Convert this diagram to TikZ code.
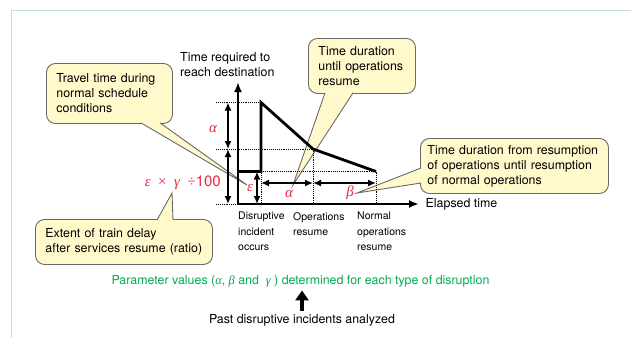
\documentclass[tikz,border=0pt]{standalone}
\usepackage{fontspec}
\setmainfont{TeX Gyre Heros}
\newfontfamily\symfont{Liberation Serif}
\usetikzlibrary{arrows.meta,calc,positioning}

\definecolor{framegreen}{RGB}{190,226,204}
\definecolor{notefill}{RGB}{255,249,204}
\definecolor{noteline}{RGB}{105,105,105}
\definecolor{paramgreen}{RGB}{0,170,85}
\definecolor{symred}{RGB}{232,40,60}

\begin{document}
\begin{tikzpicture}[x=1pt,y=-1pt,
  note/.style={anchor=north west,draw=noteline,fill=notefill,line width=0.9pt,rounded corners=9pt,
    inner xsep=10pt,inner ysep=0pt,align=left,font=\fontsize{12.4}{15}\selectfont},
  wedge/.style={draw=noteline,fill=notefill,line width=0.9pt},
  guide/.style={densely dotted,line width=0.9pt},
  axis/.style={line width=2.6pt,-{Latex[length=10pt,width=8pt]}},
  curve/.style={line width=2.8pt},
  span/.style={line width=1.8pt,{Latex[length=8pt,width=7pt]}-{Latex[length=8pt,width=7pt]}},
  sym/.style={inner sep=0pt,text=symred,font=\symfont\itshape\fontsize{15}{15}\selectfont},
  axislabel/.style={inner sep=0pt,align=left,font=\fontsize{12.4}{15}\selectfont},
  ticklabel/.style={anchor=north west,inner sep=0pt,align=left,font=\fontsize{10.5}{15.5}\selectfont},
  bigarrow/.style={line width=4.5pt,-{Triangle[length=10pt,width=13pt]}}]
\useasboundingbox (0,0) rectangle (631,338);
\draw[framegreen,line width=1.5pt] (11.5,338) -- (11.5,10.5) -- (631,10.5);

% callouts
\node[note,text width=106pt,minimum height=60pt] (travel) at (46,63) {Travel time during\\normal schedule\\conditions};
\node[note,text width=87pt,minimum height=55pt] (until) at (308,38) {Time duration\\until operations\\resume};
\node[note,inner xsep=7pt,text width=174pt,minimum height=55pt] (resumption) at (420,138) {Time duration from resumption\\of operations until resumption\\of normal operations};
\node[note,text width=157pt,minimum height=45pt] (extent) at (35,219) {Extent of train delay\\after services resume (ratio)};

\coordinate (tipA) at (247,185);
\coordinate (tipB) at (293,185);
\coordinate (tipC) at (357,193);
\coordinate (tipD) at (172,193);
\filldraw[wedge] ($(travel.south west)+(95,-1)$) -- (tipA) -- ($(travel.south west)+(114,-1)$);
\filldraw[wedge] ($(until.south west)+(17,-1)$) -- (tipB) -- ($(until.south west)+(45,-1)$);
\filldraw[wedge] ($(resumption.north west)+(1,30)$) -- (tipC) -- ($(resumption.north west)+(1,45)$);
\filldraw[wedge] ($(extent.north west)+(122,1)$) -- (tipD) -- ($(extent.north west)+(138,1)$);

% graph
\coordinate (o) at (238,204);
\coordinate (ytop) at (238,82);
\coordinate (xend) at (419,204);
\coordinate (normal) at (238,171.5);
\coordinate (kink) at (261,171.5);
\coordinate (peak) at (261,102.5);
\coordinate (cross) at (313,149);
\coordinate (back) at (376,171.5);

\draw[guide] (216,102.5) -- (peak);
\draw[guide] (216,149) -- (cross);
\draw[guide] (216,204) -- (o);
\draw[guide] (kink) -- (back);
\draw[guide] (kink) -- (kink |- o);
\draw[guide] (cross) -- (cross |- o);
\draw[guide] (back) -- (back |- o);

\draw[axis] (o) -- (ytop);
\draw[axis] (o) -- (xend);
\draw[curve] (normal) -- (kink) -- (peak) -- (cross) -- (back);

\draw[span] ([xshift=-10pt]peak -| o) -- ([xshift=-10pt]cross -| o);
\draw[span] ([xshift=-10pt]cross -| o) -- ([xshift=-10pt]o);
\draw[span] ([xshift=-4pt]kink) -- ([xshift=-4pt]kink |- o);
\draw[span] ([yshift=21pt]kink |- o) -- ([yshift=21pt]cross |- o);
\draw[span] ([yshift=21pt]cross |- o) -- ([yshift=21pt]back |- o);

\node[sym] (alphaleft) at (213,129) {α};
\node[sym,anchor=east] (formula) at (221,183) {ε\enspace{\upshape ×}\enspace γ\enspace{\upshape ÷}{\normalfont 100}};
\node[sym] (epslab) at (250,188) {ε};
\node[sym] (alphalow) at (289,194) {α};
\node[sym] (betalow) at (350,193) {β};

\node[axislabel,anchor=north west] (ylab) at (180,52) {Time required to\\reach destination};
\node[axislabel,anchor=west] (xlab) at (425.5,204) {Elapsed time};
\node[ticklabel] (incident) at (238,212) {Disruptive\\incident\\occurs};
\node[ticklabel] (resume) at (293,212) {Operations\\resume};
\node[ticklabel] (normalres) at (357,212) {Normal\\operations\\resume};

\node[text=paramgreen,font=\fontsize{12.4}{15}\selectfont] (params) at (300.5,281) {Parameter values ({\symfont\itshape α}, {\symfont\itshape β} and \ {\symfont\itshape γ} ) determined for each type of disruption};
\node[font=\fontsize{12.4}{15}\selectfont] (past) at (302,320) {Past disruptive incidents analyzed};
\draw[bigarrow] (past.north) -- (past.north |- params.south);
\end{tikzpicture}
\end{document}
